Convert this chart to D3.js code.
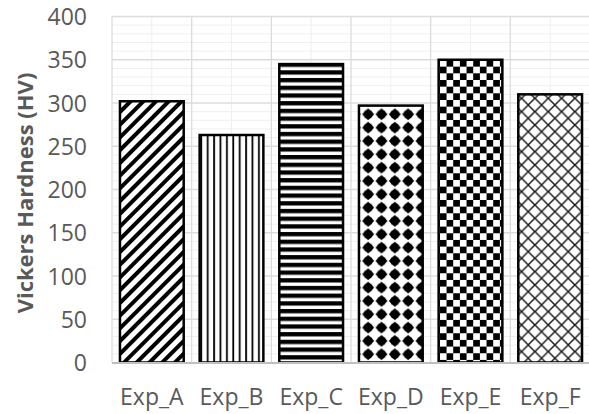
<!DOCTYPE html>
<html>
<head>
<meta charset="utf-8">
<script src="https://cdn.jsdelivr.net/npm/d3@7"></script>
<style>
  body { margin: 0; background: #fff; }
  text { font-family: "Open Sans", sans-serif; fill: #595959; }
</style>
</head>
<body>
<div id="chart"></div>
<script>
// values
const categories = ['Exp_A', 'Exp_B', 'Exp_C', 'Exp_D', 'Exp_E', 'Exp_F']
const hardness = [302, 263, 345, 297, 350, 310]
const patterns = ['diag', 'vert', 'horiz', 'star', 'check', 'trellis']
const yTicks = [0, 50, 100, 150, 200, 250, 300, 350, 400]
const yMinor = d3.range(0, 401, 10)
const yTitle = 'Vickers Hardness (HV)'

const width = 589, height = 414
const plotLeft = 112, plotRight = 590, plotTop = 16.5, plotBottom = 362.5

let svg = d3.select('#chart').append('svg')
    .attr('width', width)
    .attr('height', height)

let x = d3.scaleBand()
    .domain(categories)
    .range([plotLeft, plotRight])
    .paddingInner(0.2)
    .paddingOuter(0.1)

let y = d3.scaleLinear().domain([0, 400]).range([plotBottom, plotTop])

// fill patterns, excel style
let defs = svg.append('defs')

let diag = defs.append('pattern').attr('id', 'diag')
    .attr('patternUnits', 'userSpaceOnUse')
    .attr('width', 9).attr('height', 9)
    .attr('patternTransform', 'rotate(45)')
diag.append('rect').attr('width', 9).attr('height', 9).attr('fill', '#fff')
diag.append('rect').attr('width', 4).attr('height', 9).attr('fill', '#000')

let vert = defs.append('pattern').attr('id', 'vert')
    .attr('patternUnits', 'userSpaceOnUse')
    .attr('width', 6.4).attr('height', 10)
vert.append('rect').attr('width', 6.4).attr('height', 10).attr('fill', '#fff')
vert.append('rect').attr('x', 2).attr('width', 1.8).attr('height', 10).attr('fill', '#000')

let horiz = defs.append('pattern').attr('id', 'horiz')
    .attr('patternUnits', 'userSpaceOnUse')
    .attr('width', 10).attr('height', 7.7)
horiz.append('rect').attr('width', 10).attr('height', 7.7).attr('fill', '#fff')
horiz.append('rect').attr('y', 1).attr('width', 10).attr('height', 4.3).attr('fill', '#000')

let tile = 13.33
let c = tile / 2
let star = defs.append('pattern').attr('id', 'star')
    .attr('patternUnits', 'userSpaceOnUse')
    .attr('x', 1.6).attr('y', 1)
    .attr('width', tile).attr('height', tile)
star.append('rect').attr('width', tile).attr('height', tile).attr('fill', '#fff')
star.append('circle').attr('cx', c).attr('cy', c).attr('r', 4.6).attr('fill', '#000')
// little points north/east/south/west
star.append('path')
    .attr('d', 'M' + [c, c - 6] + 'L' + [c + 6, c] + 'L' + [c, c + 6] + 'L' + [c - 6, c] + 'Z')
    .attr('fill', '#000')

let check = defs.append('pattern').attr('id', 'check')
    .attr('patternUnits', 'userSpaceOnUse')
    .attr('width', tile).attr('height', tile)
check.append('rect').attr('width', tile).attr('height', tile).attr('fill', '#fff')
check.append('rect').attr('width', c).attr('height', c).attr('fill', '#000')
check.append('rect').attr('x', c).attr('y', c).attr('width', c).attr('height', c).attr('fill', '#000')

let trellis = defs.append('pattern').attr('id', 'trellis')
    .attr('patternUnits', 'userSpaceOnUse')
    .attr('x', 1.7).attr('y', 5)
    .attr('width', tile).attr('height', tile)
trellis.append('rect').attr('width', tile).attr('height', tile).attr('fill', '#fff')
trellis.append('path')
    .attr('d', 'M-1,-1L' + [tile + 1, tile + 1] + 'M' + [tile + 1, -1] + 'L' + [-1, tile + 1])
    .attr('stroke', '#1a1a1a')
    .attr('stroke-width', 1.5)

// grid
let grid = svg.append('g').attr('class', 'grid')
grid.selectAll('.minor-y')
    .data(yMinor.filter(d => d % 50 !== 0))
    .enter().append('line')
    .attr('x1', plotLeft).attr('x2', plotRight)
    .attr('y1', d => y(d)).attr('y2', d => y(d))
    .attr('stroke', '#efefef').attr('stroke-width', 1)
grid.selectAll('.minor-x')
    .data(categories)
    .enter().append('line')
    .attr('x1', d => x(d) + x.bandwidth() / 2).attr('x2', d => x(d) + x.bandwidth() / 2)
    .attr('y1', plotTop).attr('y2', plotBottom)
    .attr('stroke', '#efefef').attr('stroke-width', 1)
grid.selectAll('.major-y')
    .data(yTicks.slice(1))
    .enter().append('line')
    .attr('x1', plotLeft).attr('x2', plotRight)
    .attr('y1', d => y(d)).attr('y2', d => y(d))
    .attr('stroke', '#dcdcdc').attr('stroke-width', 1.3)
grid.selectAll('.major-x')
    .data(d3.range(categories.length + 1))
    .enter().append('line')
    .attr('x1', i => plotLeft + i * x.step()).attr('x2', i => plotLeft + i * x.step())
    .attr('y1', plotTop).attr('y2', plotBottom)
    .attr('stroke', '#dcdcdc').attr('stroke-width', 1.3)

// bars
svg.append('g').attr('class', 'bars')
    .selectAll('rect')
    .data(categories)
    .enter().append('rect')
    .attr('x', d => x(d))
    .attr('width', x.bandwidth())
    .attr('y', (d, i) => y(hardness[i]))
    .attr('height', (d, i) => y(0) - y(hardness[i]))
    .attr('fill', (d, i) => 'url(#' + patterns[i] + ')')
    .attr('stroke', '#000')
    .attr('stroke-width', 2.5)

// baseline
svg.append('line')
    .attr('x1', plotLeft).attr('x2', plotRight)
    .attr('y1', y(0) + 0.5).attr('y2', y(0) + 0.5)
    .attr('stroke', '#bfbfbf').attr('stroke-width', 2)

// y axis
let yAxis = svg.append('g')
    .attr('class', 'y-axis')
    .attr('transform', 'translate(' + (plotLeft - 25) + ',0)')
    .call(d3.axisLeft(y).tickValues(yTicks).tickSize(0).tickPadding(0))
yAxis.select('.domain').remove()
yAxis.selectAll('text')
    .style('font-size', '23px')
    .attr('fill', '#595959')
    .attr('dy', '0.35em')

// x axis
let xAxis = svg.append('g')
    .attr('class', 'x-axis')
    .attr('transform', 'translate(0,' + plotBottom + ')')
    .call(d3.axisBottom(x).tickSize(0).tickPadding(0))
xAxis.select('.domain').remove()
xAxis.selectAll('text')
    .style('font-size', '23px')
    .attr('fill', '#595959')
    .attr('y', 42.5)
    .attr('dy', 0)

svg.append('text')
    .attr('transform', 'translate(33,193) rotate(-90)')
    .attr('text-anchor', 'middle')
    .style('font-size', '22px')
    .style('font-weight', 'bold')
    .text(yTitle)
</script>
</body>
</html>
